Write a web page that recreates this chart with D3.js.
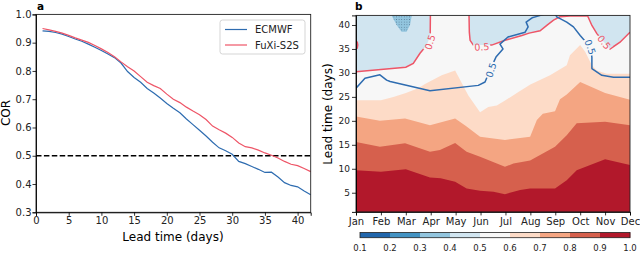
<!DOCTYPE html>
<html><head><meta charset="utf-8">
<script src="https://cdn.jsdelivr.net/npm/d3@7"></script>
<style>
html,body{margin:0;padding:0;background:#fff;}
svg{display:block;font-family:"DejaVu Sans",sans-serif;}
</style></head>
<body><svg id="c" width="640" height="267"></svg>
<script>
// ---------- DATA ----------
const leadDays = d3.range(1, 43);
const ecmwfCOR = [0.942,0.940,0.936,0.930,0.922,0.913,0.905,0.895,0.884,0.872,
  0.860,0.847,0.828,0.798,0.777,0.760,0.738,0.722,0.704,0.685,
  0.668,0.652,0.630,0.610,0.590,0.570,0.548,0.528,0.518,0.505,
  0.480,0.472,0.462,0.452,0.441,0.442,0.425,0.405,0.395,0.390,0.375,0.362];
const fuxiCOR = [0.950,0.945,0.940,0.934,0.926,0.917,0.909,0.901,0.890,0.878,
  0.865,0.850,0.832,0.815,0.800,0.780,0.760,0.748,0.738,0.718,
  0.700,0.688,0.672,0.658,0.645,0.628,0.605,0.592,0.580,0.565,
  0.545,0.532,0.528,0.520,0.510,0.502,0.492,0.480,0.470,0.465,0.455,0.444];
const seriesNames = ["ECMWF", "FuXi-S2S"];
const threshold = 0.5;
const yTicksA = [0.3,0.4,0.5,0.6,0.7,0.8,0.9,1.0];
const xTicksA = [0,5,10,15,20,25,30,35,40];

const months = ["Jan","Feb","Mar","Apr","May","Jun","Jul","Aug","Sep","Oct","Nov","Dec"];
const yTicksB = [5,10,15,20,25,30,35,40];
const corLevels = [0.1,0.2,0.3,0.4,0.5,0.6,0.7,0.8,0.9,1.0];
// FuXi-S2S COR field: lead time (days) where COR crosses each level, by month (1=Jan..12=Dec)
const cross09 = [[1,9.7],[2,9.4],[3,9.9],[3.5,9.0],[3.97,8.2],[4.4,8.0],[4.98,7.3],[5.44,5.9],[5.98,5.4],[6.52,5.2],[6.98,4.7],[7.59,5.55],[7.99,5.9],[8.99,5.9],[9.46,7.6],[9.86,9.7],[11,12.0],[12,10.8]];
const cross08 = [[1,15.6],[1.96,14.6],[2.97,15.3],[3.97,13.55],[4.37,13.9],[4.98,15.4],[5.44,13.55],[5.98,12.5],[6.98,10.4],[7.32,11.1],[7.99,11.7],[8.99,14.6],[9.46,17.0],[9.86,19.5],[11,19.8],[12,19.1]];
const cross07 = [[1,20.9],[1.96,20.0],[2.97,20.5],[3.97,19.1],[4.98,20.5],[5.44,18.8],[5.98,16.7],[6.98,16.0],[7.99,16.7],[8.26,20.2],[8.5,21.5],[8.99,22.0],[9.19,24.5],[9.46,25.5],[10.0,28.1],[11,25.8],[12,24.4]];
const cross06 = [[1,24.3],[2,24.3],[2.5,25.0],[3.0,25.8],[3.5,26.8],[3.77,27.7],[4.44,29.5],[4.98,30.5],[5.51,25.3],[5.98,21.8],[6.31,22.9],[6.65,23.2],[7.0,24.3],[7.52,26.0],[8.0,27.6],[8.79,29.5],[9.46,31.6],[9.59,33.7],[10.0,35.8],[10.2,34.4],[10.47,31.6],[10.67,30.5],[11.07,29.8],[12,29.8]];
const cross05 = [[1,30.25],[2,30.7],[3,31.2],[3.3,32.0],[3.57,34.1],[3.84,35.8],[3.97,37.6],[3.98,38.5],[3.99,44],[5.53,44],[5.55,38.5],[5.58,36.8],[5.71,35.8],[6.45,35.8],[6.98,36.8],[7.66,37.8],[7.95,38.3],[8.39,38.8],[8.66,39.9],[8.93,41],[9.19,41.7],[9.59,41.9],[10.3,41.9],[10.47,39.9],[10.67,38.2],[10.96,36.4],[11.2,35.0],[11.6,36.4],[12,38.5]];
const cross05Island = [[1.0,35.0],[1.05,35.2],[1.07,35.8],[1.05,36.4],[1.0,36.6]];
const cross04 = [[1,44],[2.4,44],[2.43,42],[2.63,40],[2.83,38.6],[3.03,38.6],[3.17,40],[3.24,42],[3.27,44],[12,44]];
// ECMWF 0.5 COR contour
const ecmwf05 = [[1.0,26.8],[1.36,28.9],[1.96,29.6],[2.23,28.5],[2.37,28.2],[3.97,26.3],[5.91,27.4],[6.18,28.1],[6.38,30.6],[6.62,33.3],[6.9,35.0],[6.78,36.0],[7.1,37.5],[7.79,38.5],[7.91,39.6],[7.83,40.6],[8.07,41.5],[8.27,41.8],[8.6,42.3],[9.0,42.3],[9.06,41.7],[9.46,40.6],[9.73,39.6],[10.0,37.8],[10.4,35.4],[10.47,33.3],[10.47,30.9],[10.87,29.5],[11.34,29.1],[12,29.1]];

// ---------- STYLE ----------
const binColors = ["#2166ac","#4393c3","#92c5de","#d1e5f0","#f7f7f7","#fddbc7","#f4a582","#d6604d","#b2182b"];
const blue = "#2e6cb0", red = "#ee5567";
const font = "DejaVu Sans";
// contour label annotations (month, lead, angle)
const redLabels = [[3.97,36.4,-72],[6.05,35.4,-3],[10.96,36.4,52]];
const blueLabels = [[6.42,30.6,-72],[10.4,35.4,70]];

const svg = d3.select("#c");

// ================= PANEL A =================
const xa = d3.scaleLinear([0,42],[36,310.7]);
const ya = d3.scaleLinear([0.3,1.0],[212.3,14.4]);
const ga = svg.append("g");

ga.append("line").attr("x1",xa(0)).attr("x2",xa(42)).attr("y1",ya(threshold)).attr("y2",ya(threshold))
  .attr("stroke","#000").attr("stroke-width",1.5).attr("stroke-dasharray","5.5,2.4");

const lineA = d3.line().x((d,i)=>xa(leadDays[i])).y(d=>ya(d));
ga.append("path").datum(ecmwfCOR).attr("d",lineA).attr("fill","none").attr("stroke",blue).attr("stroke-width",1.2);
ga.append("path").datum(fuxiCOR).attr("d",lineA).attr("fill","none").attr("stroke",red).attr("stroke-width",1.2);

ga.append("rect").attr("x",xa(0)).attr("y",ya(1.0)).attr("width",xa(42)-xa(0)).attr("height",ya(0.3)-ya(1.0))
  .attr("fill","none").attr("stroke","#222").attr("stroke-width",0.9);

const axA1 = ga.append("g").attr("transform",`translate(0,${ya(0.3)})`)
  .call(d3.axisBottom(xa).tickValues(xTicksA).tickSize(3.5).tickPadding(1.3));
const axA2 = ga.append("g").attr("transform",`translate(${xa(0)},0)`)
  .call(d3.axisLeft(ya).tickValues(yTicksA).tickFormat(d3.format(".1f")).tickSize(3.5).tickPadding(1));
[axA1,axA2].forEach(a=>{a.select(".domain").attr("stroke","#000").attr("stroke-width",0.9);
  a.selectAll("text").attr("font-family",font).attr("font-size",10).attr("fill","#222");
  a.selectAll(".tick line").attr("stroke","#000").attr("stroke-width",0.8);});

ga.append("text").attr("x",173).attr("y",240.8).attr("text-anchor","middle").attr("font-family",font).attr("font-size",12).text("Lead time (days)");
ga.append("text").attr("transform","translate(10,113) rotate(-90)").attr("text-anchor","middle").attr("font-family",font).attr("font-size",12).text("COR");
ga.append("text").attr("x",37).attr("y",10.4).attr("font-family",font).attr("font-weight","bold").attr("font-size",10.5).text("a");

// legend
const lg = ga.append("g");
lg.append("rect").attr("x",220).attr("y",20).attr("width",85).attr("height",34).attr("rx",2.5)
  .attr("fill","#fff").attr("fill-opacity",0.85).attr("stroke","#d0d0d0").attr("stroke-width",0.9);
[[seriesNames[0],blue],[seriesNames[1],red]].forEach((s,i)=>{
  const yy = 29.5 + i*15.5;
  lg.append("line").attr("x1",225).attr("x2",247).attr("y1",yy).attr("y2",yy).attr("stroke",s[1]).attr("stroke-width",1.2);
  lg.append("text").attr("x",255).attr("y",yy+3.6).attr("font-family",font).attr("font-size",10).attr("fill","#222").text(s[0]);
});

// ================= PANEL B =================
const xb = d3.scaleLinear([1,12],[356,630]);
const yb = d3.scaleLinear([1,42],[211.9,15.4]);
const gb = svg.append("g");
const defs = svg.append("defs");
defs.append("clipPath").attr("id","clipB").append("rect")
  .attr("x",xb(1)).attr("y",yb(42)).attr("width",xb(12)-xb(1)).attr("height",yb(1)-yb(42));
const pat = defs.append("pattern").attr("id","dots").attr("width",2.6).attr("height",2.6).attr("patternUnits","userSpaceOnUse");
pat.append("circle").attr("cx",1.3).attr("cy",1.3).attr("r",0.45).attr("fill","#4a6a88");

const plot = gb.append("g").attr("clip-path","url(#clipB)");
plot.append("rect").attr("x",xb(1)).attr("y",yb(44)).attr("width",xb(12)-xb(1)).attr("height",yb(1)-yb(44)).attr("fill",binColors[3]);
const below = d3.area().x(d=>xb(d[0])).y0(yb(1)).y1(d=>yb(d[1]));
const above = d3.area().x(d=>xb(d[0])).y0(d=>yb(d[1])).y1(yb(44));
[[cross05,4],[cross06,5],[cross07,6],[cross08,7],[cross09,8]].forEach(([b,ci])=>{
  plot.append("path").datum(b).attr("d",below).attr("fill",binColors[ci]);
});
plot.append("path").datum(cross04).attr("d",above).attr("fill",binColors[2]);
plot.append("path").datum(cross04).attr("d",above).attr("fill","url(#dots)");
plot.append("path").datum(cross05Island).attr("d",d3.line().x(d=>xb(d[0])).y(d=>yb(d[1]))).attr("fill",binColors[4]).attr("stroke",red).attr("stroke-width",1.5);

function makeMask(id, labels){
  const m = defs.append("mask").attr("id",id).attr("maskUnits","userSpaceOnUse")
    .attr("x",0).attr("y",0).attr("width",640).attr("height",267);
  m.append("rect").attr("x",0).attr("y",0).attr("width",640).attr("height",267).attr("fill","#fff");
  labels.forEach(l=>{
    m.append("rect").attr("x",-8.5).attr("y",-4.5).attr("width",17).attr("height",9).attr("fill","#000")
     .attr("transform",`translate(${xb(l[0])},${yb(l[1])}) rotate(${l[2]})`);
  });
}
makeMask("mRed", redLabels);
makeMask("mBlue", blueLabels);
const lineB = d3.line().x(d=>xb(d[0])).y(d=>yb(d[1]));
plot.append("path").datum(cross05).attr("d",lineB).attr("fill","none").attr("stroke",red).attr("stroke-width",1.5).attr("mask","url(#mRed)");
plot.append("path").datum(ecmwf05).attr("d",lineB).attr("fill","none").attr("stroke",blue).attr("stroke-width",1.5).attr("mask","url(#mBlue)").attr("stroke-linejoin","round");
function drawLabels(labels, col){
  labels.forEach(l=>{
    plot.append("text").attr("transform",`translate(${xb(l[0])},${yb(l[1])}) rotate(${l[2]})`)
      .attr("text-anchor","middle").attr("dy","0.36em").attr("font-family",font).attr("font-size",9.5)
      .attr("fill",col).text(threshold.toFixed(1));
  });
}
drawLabels(redLabels, red);
drawLabels(blueLabels, blue);

gb.append("rect").attr("x",xb(1)).attr("y",yb(42)).attr("width",xb(12)-xb(1)).attr("height",yb(1)-yb(42))
  .attr("fill","none").attr("stroke","#222").attr("stroke-width",0.9);
const axB1 = gb.append("g").attr("transform",`translate(0,${yb(1)})`)
  .call(d3.axisBottom(xb).tickValues(d3.range(1,13)).tickFormat(d=>months[d-1]).tickSize(3.5).tickPadding(3));
const axB2 = gb.append("g").attr("transform",`translate(${xb(1)},0)`)
  .call(d3.axisLeft(yb).tickValues(yTicksB).tickSize(4).tickPadding(2));
[axB1,axB2].forEach(a=>{a.select(".domain").attr("stroke","#000").attr("stroke-width",0.9);
  a.selectAll("text").attr("font-family",font).attr("fill","#222");
  a.selectAll(".tick line").attr("stroke","#000").attr("stroke-width",0.8);});
axB1.selectAll("text").attr("font-size",10);
axB2.selectAll("text").attr("font-size",9);
gb.append("text").attr("transform","translate(332,114) rotate(-90)").attr("text-anchor","middle").attr("font-family",font).attr("font-size",12).text("Lead time (days)");
gb.append("text").attr("x",355).attr("y",10.4).attr("font-family",font).attr("font-weight","bold").attr("font-size",10.5).text("b");

// colorbar
const xc = d3.scaleLinear([0.1,1.0],[360,630]);
const cb = svg.append("g");
d3.pairs(corLevels).forEach((p,i)=>{
  cb.append("rect").attr("x",xc(p[0])).attr("y",232.5).attr("width",xc(p[1])-xc(p[0])+0.3).attr("height",5.2).attr("fill",binColors[i]);
});
cb.append("rect").attr("x",xc(0.1)).attr("y",232.5).attr("width",xc(1.0)-xc(0.1)).attr("height",5.2).attr("fill","none").attr("stroke","#222").attr("stroke-width",0.8);
cb.selectAll("text.cl").data(corLevels).join("text").attr("class","cl")
  .attr("x",d=>xc(d)).attr("y",250.8).attr("text-anchor","middle").attr("font-family",font).attr("font-size",8.5).attr("fill","#222")
  .text(d=>d.toFixed(1));
</script></body></html>
